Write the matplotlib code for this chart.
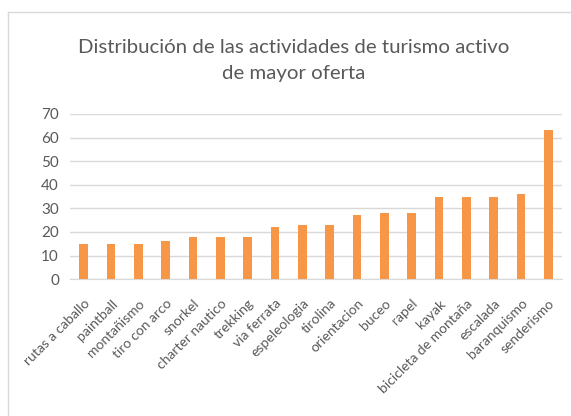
import matplotlib
matplotlib.use("Agg")
import matplotlib.pyplot as plt
from matplotlib.lines import Line2D

actividades = ["rutas a caballo", "paintball", "montañismo", "tiro con arco", "snorkel",
               "charter nautico", "trekking", "via ferrata", "espeleologia", "tirolina",
               "orientacion", "buceo", "rapel", "kayak", "bicicleta de montaña",
               "escalada", "baranquismo", "senderismo"]
oferta = [15, 15, 15, 16, 18, 18, 18, 22, 23, 23, 27, 28, 28, 35, 35, 35, 36, 63]
y_ticks = [0, 10, 20, 30, 40, 50, 60, 70]

titulo = "Distribución de las actividades de turismo activo\nde mayor oferta"

plt.rcParams['font.family'] = ['Lato', 'DejaVu Sans']
gris = '#595959'

fig = plt.figure(figsize=(5.71, 4.16), dpi=100)
ax = fig.add_axes([0.1226, 0.329, 0.8614, 0.397])

x = range(len(actividades))
ax.bar(x, oferta, width=0.32, color='#F79646', zorder=3)

ax.set_xlim(-0.5, len(actividades) - 0.5)
ax.set_ylim(0, 70)
ax.set_yticks(y_ticks)
ax.set_yticklabels([str(v) for v in y_ticks], fontsize=11, color=gris)
ax.set_xticks(list(x))
ax.set_xticklabels(actividades, rotation=45, ha='right', rotation_mode='anchor',
                   fontsize=10, color=gris)
ax.tick_params(axis='both', length=0)
ax.tick_params(axis='y', pad=8)
ax.tick_params(axis='x', pad=13)

ax.grid(axis='y', color='#D9D9D9', linewidth=1, zorder=0)
for side in ['top', 'right', 'left']:
    ax.spines[side].set_visible(False)
ax.spines['bottom'].set_color('#D9D9D9')

fig.text(0.514, 0.855, titulo, ha='center', va='center', fontsize=14.7,
         color=gris, linespacing=1.6)

# chart border (only top and left edges visible in the crop)
fig.add_artist(Line2D([8 / 571, 8 / 571], [0, 1 - 12 / 416], transform=fig.transFigure,
                      color='#D9D9D9', linewidth=1))
fig.add_artist(Line2D([8 / 571, 1], [1 - 12 / 416, 1 - 12 / 416], transform=fig.transFigure,
                      color='#D9D9D9', linewidth=1))

fig.savefig("out.png", dpi=100)
